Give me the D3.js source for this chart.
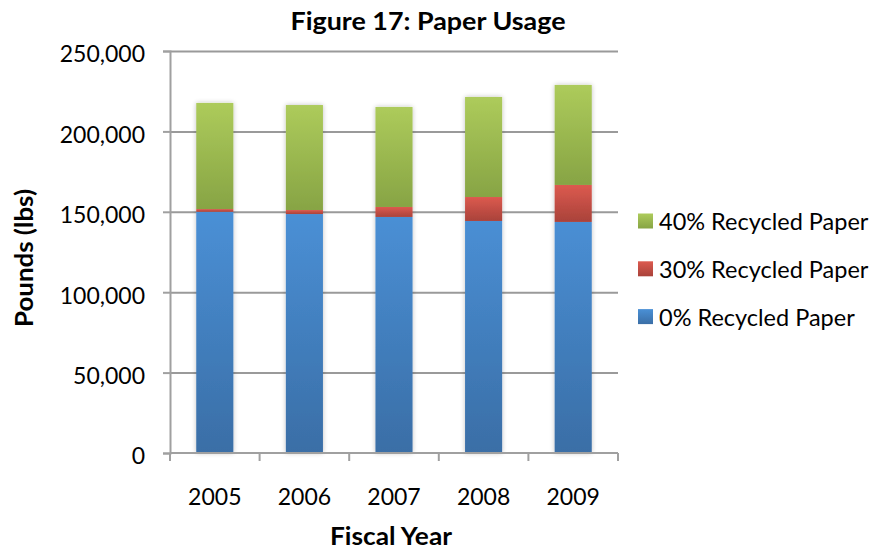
<!DOCTYPE html>
<html>
<head>
<meta charset="utf-8">
<script src="https://cdn.jsdelivr.net/npm/d3@7"></script>
<style>
  html, body { margin: 0; padding: 0; background: #fff; }
  svg { display: block; font-family: Lato, "Open Sans", sans-serif; }
</style>
</head>
<body>
<svg id="chart" width="877" height="550"></svg>
<script>
// Paper usage by fiscal year, stacked by recycled content (pounds)
const years = ["2005", "2006", "2007", "2008", "2009"];
const recycled0 = [150000, 148600, 146800, 144300, 143700];
const recycled30 = [1700, 2500, 6200, 14900, 23000];
const recycled40 = [66000, 65300, 62200, 62200, 62200];
const yTicks = [0, 50000, 100000, 150000, 200000, 250000];

const seriesNames = ["0% Recycled Paper", "30% Recycled Paper", "40% Recycled Paper"];
const seriesKeys = ["r0", "r30", "r40"];
const palette = {
  r0:  { top: "#4a90d6", bottom: "#3a6ea6" },
  r30: { top: "#dc5a4f", bottom: "#a9423a" },
  r40: { top: "#adcb5b", bottom: "#87a444" }
};

const rows = years.map((y, i) => ({ year: y, r0: recycled0[i], r30: recycled30[i], r40: recycled40[i] }));
const stacked = d3.stack().keys(seriesKeys)(rows);

const svg = d3.select("#chart");
const margin = { left: 170, right: 259, top: 51, bottom: 97 };
const W = 877, H = 550;

const x = d3.scaleBand().domain(years).range([margin.left, W - margin.right]).paddingInner(0.586).paddingOuter(0.293);
const y = d3.scaleLinear().domain([0, 250000]).range([H - margin.bottom, margin.top]);

const defs = svg.append("defs");
seriesKeys.forEach(k => {
  const g = defs.append("linearGradient").attr("id", "grad-" + k)
    .attr("x1", 0).attr("y1", 0).attr("x2", 0).attr("y2", 1);
  g.append("stop").attr("offset", "0%").attr("stop-color", palette[k].top);
  g.append("stop").attr("offset", "100%").attr("stop-color", palette[k].bottom);
});
const blueFull = defs.append("linearGradient").attr("id", "grad-blue-tall")
  .attr("gradientUnits", "userSpaceOnUse")
  .attr("x1", 0).attr("y1", y(150000)).attr("x2", 0).attr("y2", y(0));
blueFull.append("stop").attr("offset", "0%").attr("stop-color", "#4a90d6");
blueFull.append("stop").attr("offset", "100%").attr("stop-color", "#3a6ea6");

const shadow = defs.append("filter").attr("id", "barShadow")
  .attr("x", "-30%").attr("y", "-5%").attr("width", "160%").attr("height", "110%");
shadow.append("feGaussianBlur").attr("in", "SourceAlpha").attr("stdDeviation", 2.5).attr("result", "blur");
shadow.append("feComponentTransfer").attr("in", "blur").attr("result", "soft")
  .append("feFuncA").attr("type", "linear").attr("slope", 0.25);
const merge = shadow.append("feMerge");
merge.append("feMergeNode").attr("in", "soft");
merge.append("feMergeNode").attr("in", "SourceGraphic");

// Horizontal gridlines
const yAxisGrid = d3.axisLeft(y).tickValues(yTicks.filter(t => t > 0))
  .tickSize(-(W - margin.left - margin.right)).tickFormat("");
svg.append("g").attr("transform", `translate(${margin.left},0)`).call(yAxisGrid)
  .call(g => g.select(".domain").remove())
  .call(g => g.selectAll("line").attr("stroke", "#9a9a9a").attr("stroke-width", 2));

// Bars
const barGroup = svg.append("g").attr("filter", "url(#barShadow)");
stacked.forEach(layer => {
  barGroup.append("g").selectAll("rect").data(layer).join("rect")
    .attr("x", d => x(d.data.year))
    .attr("width", x.bandwidth())
    .attr("y", d => y(d[1]))
    .attr("height", d => y(d[0]) - y(d[1]))
    .attr("fill", layer.key === "r0" ? "url(#grad-blue-tall)" : `url(#grad-${layer.key})`);
});

// Y axis
const yAxis = d3.axisLeft(y).tickValues(yTicks).tickSize(7).tickPadding(18)
  .tickFormat(d3.format(","));
svg.append("g").attr("transform", `translate(${margin.left},0)`).call(yAxis)
  .call(g => g.select(".domain").attr("stroke", "#a0a0a0").attr("stroke-width", 2))
  .call(g => g.selectAll("line").attr("stroke", "#a0a0a0").attr("stroke-width", 2))
  .call(g => g.selectAll("text").attr("font-size", 23).attr("fill", "#000")
    .attr("dy", "0.47em").attr("font-family", "Lato, sans-serif"));

// X axis with boundary ticks between categories
const xAxisY = y(0);
const xg = svg.append("g");
xg.append("line").attr("x1", margin.left).attr("x2", W - margin.right)
  .attr("y1", xAxisY).attr("y2", xAxisY).attr("stroke", "#a0a0a0").attr("stroke-width", 2);
const step = x.step();
const boundaries = d3.range(years.length + 1).map(i => margin.left + i * step);
xg.selectAll("line.tick").data(boundaries).join("line").attr("class", "tick")
  .attr("x1", d => d).attr("x2", d => d).attr("y1", xAxisY).attr("y2", xAxisY + 8)
  .attr("stroke", "#a0a0a0").attr("stroke-width", 2);
xg.selectAll("text").data(years).join("text")
  .attr("x", d => x(d) + x.bandwidth() / 2).attr("y", 505)
  .attr("text-anchor", "middle").attr("font-size", 23).attr("fill", "#000")
  .text(d => d);

// Titles
svg.append("text").attr("x", 428).attr("y", 30).attr("text-anchor", "middle")
  .attr("font-size", 24).attr("font-weight", "bold")
  .attr("textLength", 275).attr("lengthAdjust", "spacingAndGlyphs")
  .text("Figure 17: Paper Usage");
svg.append("text").attr("x", 391).attr("y", 545).attr("text-anchor", "middle")
  .attr("font-size", 24).attr("font-weight", "bold")
  .attr("textLength", 122).attr("lengthAdjust", "spacingAndGlyphs")
  .text("Fiscal Year");
svg.append("text").attr("transform", "translate(33,258) rotate(-90)").attr("text-anchor", "middle")
  .attr("font-size", 24).attr("font-weight", "bold")
  .attr("textLength", 138).attr("lengthAdjust", "spacingAndGlyphs")
  .text("Pounds (lbs)");

// Legend (top to bottom: 40%, 30%, 0%)
const legendOrder = [2, 1, 0];
const legend = svg.append("g");
legendOrder.forEach((si, row) => {
  const top = 213.5 + row * 47.8;
  const k = seriesKeys[si];
  legend.append("rect").attr("x", 638).attr("y", top).attr("width", 15).attr("height", 15)
    .attr("fill", `url(#grad-${k})`);
  legend.append("text").attr("x", 659).attr("y", top + 16.5).attr("font-size", 23.5)
    .attr("fill", "#000").text(seriesNames[si]);
});
</script>
</body>
</html>
